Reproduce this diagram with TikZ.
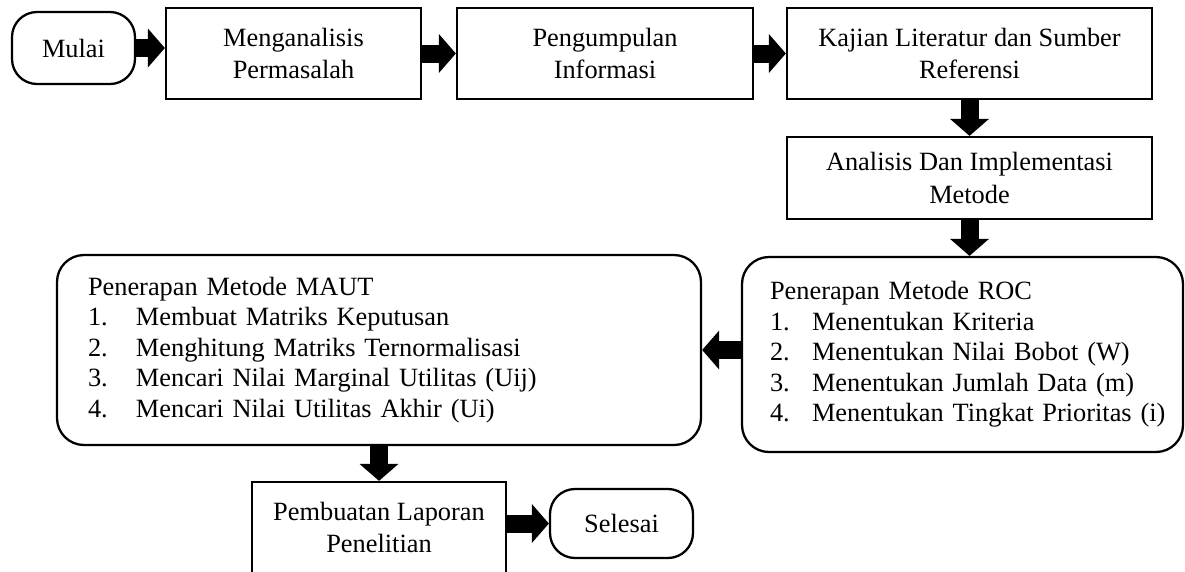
\documentclass[tikz,border=0pt]{standalone}
\usepackage{fontspec}
\setmainfont{Liberation Serif}
\usetikzlibrary{positioning}
\usetikzlibrary{arrows.meta}
\usetikzlibrary{calc}
\newcommand{\butir}[3][0.84cm]{\mbox{\makebox[#1][l]{#2}#3}}

\begin{document}
\begin{tikzpicture}[
    kotak/.style={draw,line width=1.3pt,align=center,inner sep=0pt,
                  font=\fontsize{15pt}{18.5pt}\selectfont},
    ujung/.style={kotak,rounded corners=0.5cm},
    daftar/.style={draw,line width=1.3pt,rounded corners=0.54cm,align=left,
                   inner ysep=0pt,font=\fontsize{15pt}{17.4pt}\selectfont},
    panah/.style={line width=0.36cm,-{Triangle[length=0.34cm,width=0.78cm,line width=0pt]}}
  ]
                    \useasboundingbox (0,0) rectangle (23.7,-11.42);
                    \clip (0,0) rectangle (23.7,-11.42);
                    % top row
                    \node at ( 1.47,-0.96) [ujung,minimum width=2.46cm,minimum height=1.44cm] (nmulai)   {Mulai};
                    \node at ( 5.87,-1.07) [kotak,minimum width=5.1cm, minimum height=1.82cm] (nmasalah) {Menganalisis\\Permasalah};
                    \node at (12.10,-1.07) [kotak,minimum width=5.92cm,minimum height=1.82cm] (ninfo)    {Pengumpulan\\Informasi};
                    \node at (19.39,-1.07) [kotak,minimum width=7.3cm, minimum height=1.82cm] (nkajian)  {Kajian Literatur dan Sumber\\Referensi};
                    % analysis
                    \node at (19.39,-3.56) [kotak,minimum width=7.3cm, minimum height=1.64cm] (nanalisis) {Analisis Dan Implementasi\\Metode};
                    % ROC method
                    \node at (19.25,-7.09) [daftar,text width=7.7cm,inner xsep=0.56cm,minimum height=3.9cm] (nroc)
                    {\mbox{Penerapan Metode ROC}\\
                     \butir{1.}{Menentukan Kriteria}\\
                     \butir{2.}{Menentukan Nilai Bobot (W)}\\
                     \butir{3.}{Menentukan Jumlah Data (m)}\\
                     \butir{4.}{Menentukan Tingkat Prioritas (i)}};
                    % MAUT method
                    \node at ( 7.58,-7.00) [daftar,text width=11.64cm,inner xsep=0.62cm,minimum height=3.8cm] (nmaut)
                    {\mbox{Penerapan Metode MAUT}\\
                     \butir[0.96cm]{1.}{Membuat Matriks Keputusan}\\
                     \butir[0.96cm]{2.}{Menghitung Matriks Ternormalisasi}\\
                     \butir[0.96cm]{3.}{Mencari Nilai Marginal Utilitas (Uij)}\\
                     \butir[0.96cm]{4.}{Mencari Nilai Utilitas Akhir (Ui)}};
                    % report and end
                    \node at ( 7.58,-10.55) [kotak,minimum width=5.08cm,minimum height=1.82cm] (nlapor)  {Pembuatan Laporan\\Penelitian};
                    \node at (12.43,-10.47) [ujung,minimum width=2.86cm,minimum height=1.38cm] (nselesai) {Selesai};
                    % arrows
                    \draw[panah] (nmulai.east) -- (nmulai.east -| nmasalah.west);
                    \draw[panah] (nmasalah.east) -- (ninfo.west);
                    \draw[panah] (ninfo.east) -- (nkajian.west);
                    \draw[panah] (nkajian.south) -- (nanalisis.north);
                    \draw[panah] (nanalisis.south) -- (nanalisis.south |- nroc.north);
                    \draw[panah] (nroc.west |- nmaut.east) -- (nmaut.east);
                    \draw[panah] (nmaut.south) -- (nlapor.north);
                    \draw[panah] (nselesai.west -| nlapor.east) -- (nselesai.west);
                \end{tikzpicture}
\end{document}
